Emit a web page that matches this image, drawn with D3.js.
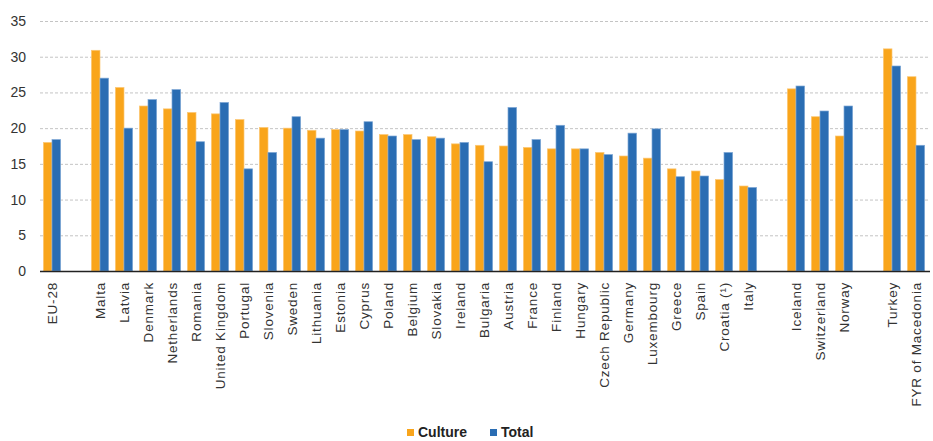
<!DOCTYPE html>
<html>
<head>
<meta charset="utf-8">
<script src="https://cdn.jsdelivr.net/npm/d3@7"></script>
<style>
  html, body { margin: 0; padding: 0; background: #fff; }
  svg { display: block; font-family: "Liberation Sans", Arial, sans-serif; }
</style>
</head>
<body>
<svg id="chart" width="933" height="441"></svg>
<script>
// ---------- data ----------
const categories = [
  "EU-28", "",
  "Malta", "Latvia", "Denmark", "Netherlands", "Romania", "United Kingdom",
  "Portugal", "Slovenia", "Sweden", "Lithuania", "Estonia", "Cyprus", "Poland",
  "Belgium", "Slovakia", "Ireland", "Bulgaria", "Austria", "France", "Finland",
  "Hungary", "Czech Republic", "Germany", "Luxembourg", "Greece", "Spain",
  "Croatia (¹)", "Italy", "",
  "Iceland", "Switzerland", "Norway", "",
  "Turkey", "FYR of Macedonia"
];

const culture = [
  18.0, null,
  30.9, 25.7, 23.1, 22.7, 22.2, 22.0,
  21.2, 20.1, 20.0, 19.7, 19.8, 19.6, 19.1,
  19.1, 18.8, 17.8, 17.6, 17.5, 17.3, 17.1,
  17.1, 16.6, 16.1, 15.8, 14.3, 14.0,
  12.8, 11.9, null,
  25.5, 21.6, 18.9, null,
  31.1, 27.2
];

const total = [
  18.4, null,
  27.0, 20.0, 24.0, 25.4, 18.1, 23.6,
  14.3, 16.6, 21.6, 18.6, 19.8, 20.9, 18.9,
  18.4, 18.6, 18.0, 15.3, 22.9, 18.4, 20.4,
  17.1, 16.3, 19.3, 19.9, 13.2, 13.3,
  16.6, 11.7, null,
  25.9, 22.4, 23.1, null,
  28.7, 17.6
];

const yTicks = [0, 5, 10, 15, 20, 25, 30, 35];

const seriesNames = ["Culture", "Total"];
const colors = { Culture: "#F9A51B", Total: "#2A6DB3" };
const strokes = { Culture: "#FCC877", Total: "#7FA8D6" };

// ---------- layout ----------
const svg = d3.select("#chart");
const plotLeft = 40, plotRight = 928, plotTop = 21, plotBottom = 271;

const x = d3.scaleBand()
  .domain(d3.range(categories.length))
  .range([plotLeft, plotRight])
  .paddingInner(0.28)
  .paddingOuter(0.14);

const xSub = d3.scaleBand()
  .domain(seriesNames)
  .range([0, x.bandwidth()]);

const y = d3.scaleLinear().domain([0, 35]).range([plotBottom, plotTop]);

// gridlines
svg.append("g")
  .selectAll("line")
  .data(yTicks.filter(d => d > 0))
  .join("line")
  .attr("x1", plotLeft)
  .attr("x2", plotRight + 2)
  .attr("y1", d => y(d) + 0.5)
  .attr("y2", d => y(d) + 0.5)
  .attr("stroke", "#c4c4c4")
  .attr("stroke-width", 1)
  .attr("stroke-dasharray", "3,2");

// y tick labels
svg.append("g")
  .selectAll("text")
  .data(yTicks)
  .join("text")
  .attr("x", 26)
  .attr("y", d => y(d))
  .attr("dy", "0.36em")
  .attr("text-anchor", "end")
  .attr("font-size", 14)
  .attr("fill", "#333")
  .text(d => d);

// bars
const rows = categories.map((c, i) => ({ i, c, Culture: culture[i], Total: total[i] }));

svg.append("g")
  .selectAll("g")
  .data(rows.filter(d => d.c !== ""))
  .join("g")
  .attr("transform", d => `translate(${x(d.i)},0)`)
  .selectAll("rect")
  .data(d => seriesNames.map(s => ({ s, v: d[s] })))
  .join("rect")
  .attr("x", d => xSub(d.s))
  .attr("width", xSub.bandwidth())
  .attr("y", d => y(d.v))
  .attr("height", d => y(0) - y(d.v))
  .attr("fill", d => colors[d.s])
  .attr("stroke", d => strokes[d.s])
  .attr("stroke-width", 0.7);

// x axis line
svg.append("line")
  .attr("x1", plotLeft)
  .attr("x2", plotRight + 2)
  .attr("y1", plotBottom + 0.5)
  .attr("y2", plotBottom + 0.5)
  .attr("stroke", "#222")
  .attr("stroke-width", 1.6);

// category labels
svg.append("g")
  .selectAll("text")
  .data(rows.filter(d => d.c !== ""))
  .join("text")
  .attr("transform", d => `translate(${x(d.i) + x.bandwidth() / 2},282) rotate(-90)`)
  .attr("dy", "0.36em")
  .attr("text-anchor", "end")
  .attr("font-size", 13.5)
  .attr("letter-spacing", "0.8px")
  .attr("fill", "#333")
  .text(d => d.c);

// legend
const legend = svg.append("g").attr("transform", "translate(407,437)");
const legendItems = [
  { s: "Culture", dx: 0 },
  { s: "Total", dx: 83 }
];
const li = legend.selectAll("g")
  .data(legendItems)
  .join("g")
  .attr("transform", d => `translate(${d.dx},0)`);
li.append("rect")
  .attr("x", 0)
  .attr("y", -8)
  .attr("width", 7)
  .attr("height", 7)
  .attr("fill", d => colors[d.s]);
li.append("text")
  .attr("x", 11)
  .attr("y", 0)
  .attr("font-size", 14)
  .attr("font-weight", "bold")
  .attr("fill", "#222")
  .text(d => d.s);
</script>
</body>
</html>
